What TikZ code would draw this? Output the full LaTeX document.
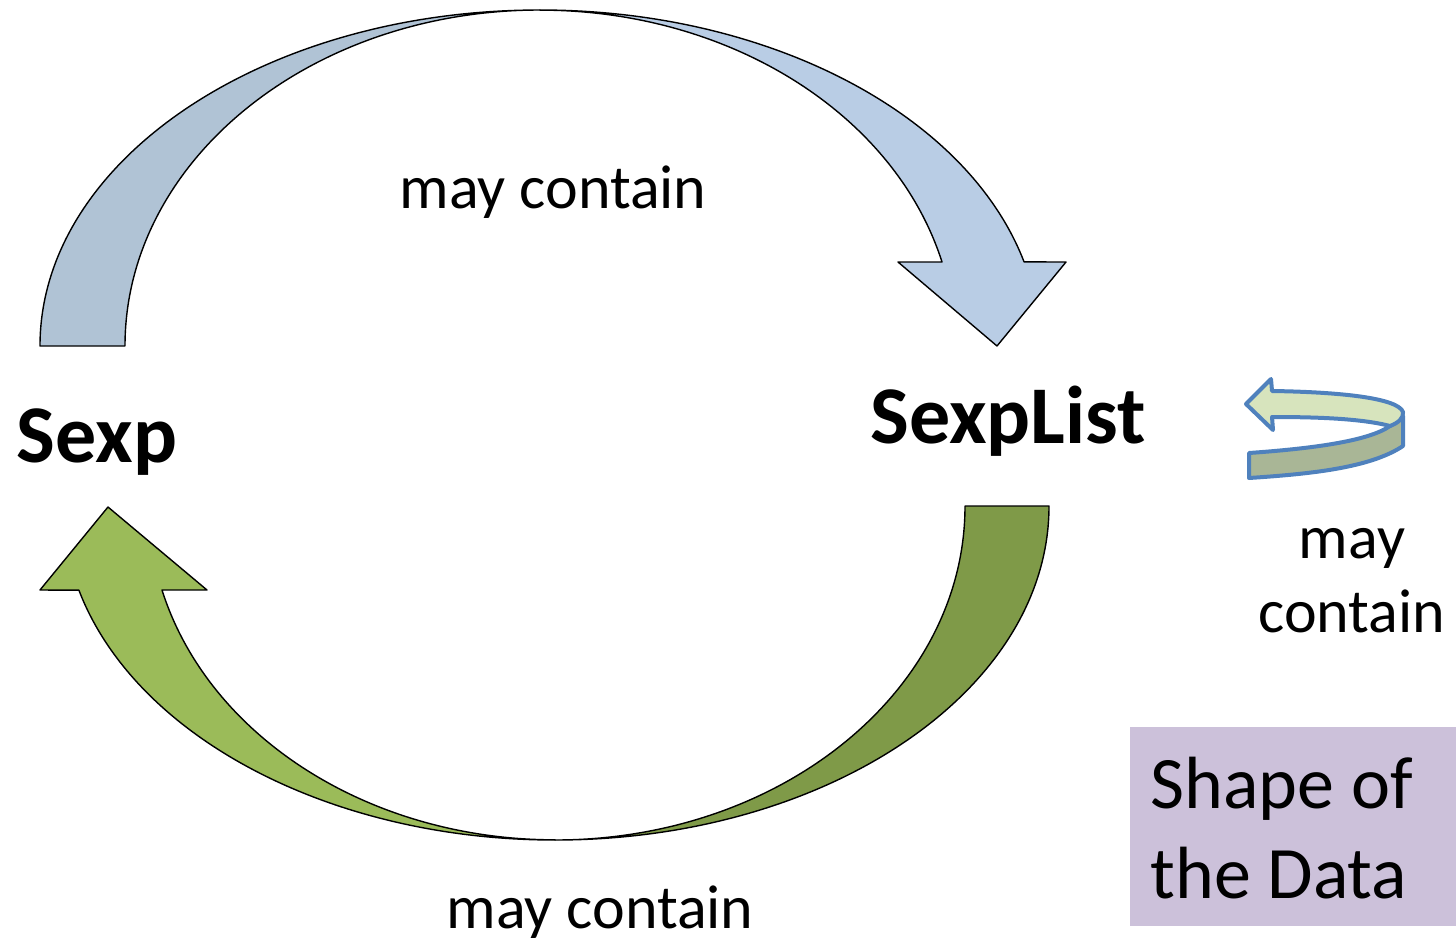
\documentclass[tikz,border=0pt]{standalone}
\usepackage{fontspec}
\setmainfont{Carlito}
\usetikzlibrary{positioning}

\definecolor{blueback}{HTML}{B0C3D5}
\definecolor{bluefront}{HTML}{B9CDE5}
\definecolor{greenfront}{HTML}{9BBB59}
\definecolor{greenback}{HTML}{7F9A48}
\definecolor{looplight}{HTML}{D7E4BD}
\definecolor{loopdark}{HTML}{A9B696}
\definecolor{loopline}{HTML}{4F81BD}
\definecolor{boxpurple}{HTML}{CCC1DA}

\begin{document}
\begin{tikzpicture}[x=0.5pt,y=-0.5pt,
    band/.style={draw=black,line width=0.7pt,line join=round},
    loopband/.style={draw=loopline,line width=2pt,line join=round},
    label/.style={font=\fontsize{31}{37}\selectfont,inner sep=0pt},
    term/.style={font=\fontsize{41}{49}\selectfont\bfseries,inner sep=0pt}]
  \useasboundingbox (0,0) rectangle (1456,938);

  % upper arc: Sexp -> SexpList
  \fill[band,fill=blueback] (40,346)
    arc[start angle=180,end angle=270,x radius=500,y radius=336]
    arc[start angle=270,end angle=180,x radius=415,y radius=336] -- cycle;
  \fill[band,fill=bluefront] (540,10)
    arc[start angle=270,end angle=345.5,x radius=500,y radius=336]
    -- (1066,262) -- (997,346) -- (898,262) -- (942,262)
    arc[start angle=345.5,end angle=270,x radius=415,y radius=336] -- cycle;

  % lower arc: SexpList -> Sexp
  \fill[band,fill=greenback] (965,506) -- (1049,506)
    arc[start angle=0,end angle=90,x radius=494,y radius=334]
    arc[start angle=90,end angle=0,x radius=410,y radius=334] -- cycle;
  \fill[band,fill=greenfront] (555,840)
    arc[start angle=90,end angle=165.4,x radius=492,y radius=334]
    -- (40,590) -- (108,507) -- (207,590) -- (162,590)
    arc[start angle=165.4,end angle=90,x radius=406,y radius=334] -- cycle;

  % SexpList loops back to itself
  \filldraw[loopband,fill=loopdark] (1249,453)
    .. controls (1320,448) and (1370,440) .. (1390,426)
    -- (1403,416) -- (1403,446)
    .. controls (1370,468) and (1310,474) .. (1249,478) -- cycle;
  \filldraw[loopband,fill=looplight] (1272,391)
    .. controls (1340,392) and (1398,398) .. (1403,412)
    .. controls (1404,418) and (1398,423) .. (1390,426)
    .. controls (1360,418) and (1310,417) .. (1272,417)
    -- (1273,430) -- (1246,404) -- (1271,379) -- cycle;

  \node[term,anchor=base] (sexp) at (97,462) {Sexp};
  \node[term,anchor=base] (sexplist) at (1008,443) {SexpList};

  \node[label,anchor=base] (topnote) at (553,208) {may contain};
  \node[label,anchor=base] (bottomnote) at (600,928) {may contain};
  \node[label,anchor=base] (selfnote) at (1352,558) {may};
  \node[label,below=37pt of selfnote.base,anchor=base] (selfnote2) {contain};

  % title box
  \node[fill=boxpurple,anchor=north west,minimum width=163pt,minimum height=99.5pt,inner sep=0pt] (shapebox) at (1130,727) {};
  \node[font=\fontsize{37}{45}\selectfont,align=left,anchor=north west,inner sep=0pt] (shapetext) at (1150,757) {Shape of\\the Data};
\end{tikzpicture}
\end{document}
